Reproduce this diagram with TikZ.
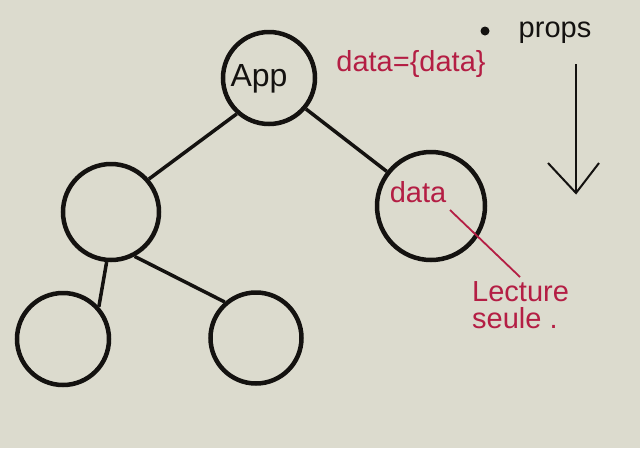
\documentclass[tikz,border=0pt]{standalone}
\usepackage{fontspec}
\setmainfont{Liberation Sans}
\definecolor{bg}{RGB}{220,219,206}
\definecolor{ink}{RGB}{20,18,16}
\definecolor{crim}{RGB}{180,30,68}
\begin{document}
\begin{tikzpicture}[x=1pt,y=-1pt,
  tnode/.style={circle,draw=ink,line width=4.5pt,inner sep=0pt},
  edge/.style={draw=ink,line width=3.5pt},
  hand/.style={font=\fontsize{29}{31}\selectfont,inner sep=0pt},
  redtxt/.style={hand,text=crim},
  redline/.style={draw=crim,line width=1.8pt}]
\fill[bg] (0,0) rectangle (640,448);
\useasboundingbox (0,0) rectangle (640,448);
% tree nodes
\node[tnode,minimum size=92pt] (app) at (269,78) {};
\node[tnode,minimum size=96pt] (l) at (111,212) {};
\node[tnode,minimum size=108pt] (r) at (431,206) {};
\node[tnode,minimum size=92pt] (bl) at (63,339) {};
\node[tnode,minimum size=91pt] (br) at (256,338) {};
% edges
\draw[edge] (app.228) -- (l.41);
\draw[edge] (app.320) -- (r.142);
\draw[edge] (l.265) -- (bl.42);
\draw[edge] (l.298) -- (br.131);
% labels
\node[hand,text=ink,font=\fontsize{32}{34}\selectfont] (applbl) at (259,79) {App};
\node[redtxt] (datap) at (411,64) {data=\{data\}};
\node[redtxt] (datal) at (418,192) {data};
\coordinate (ds) at (450,210);
\coordinate (de) at (520,277);
\draw[redline] (ds) -- (de);
\node[redtxt,anchor=north west] (lect) at (472,281) {Lecture};
\node[redtxt,anchor=north west] (seule) at (472,307) {seule .};
% props arrow
\node[circle,fill=ink,inner sep=0pt,minimum size=9pt] (dot) at (485,31) {};
\node[hand,text=ink] (props) at (555,33) {props};
\coordinate (a1) at (576,64);
\coordinate (a2) at (576,193);
\coordinate (w1) at (548,163);
\coordinate (w2) at (599,163);
\draw[draw=ink,line width=2pt] (a1) -- (a2);
\draw[draw=ink,line width=2pt,line join=miter] (w1) -- (a2) -- (w2);
\end{tikzpicture}
\end{document}
